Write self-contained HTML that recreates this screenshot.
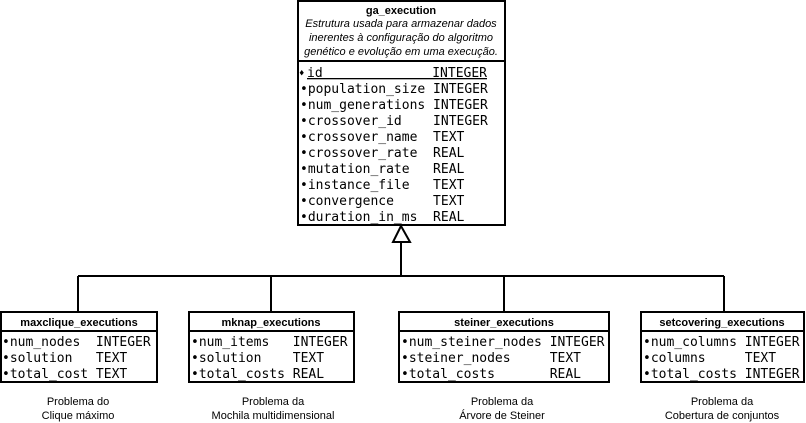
<!DOCTYPE html>
<html><head><meta charset="utf-8"><style>
html,body{margin:0;padding:0;background:#fff;width:806px;height:423px;overflow:hidden}
svg text{font-family:"DejaVu Sans Mono",monospace;font-size:13px;fill:#000;white-space:pre}
svg .h{font-family:"Liberation Sans",sans-serif;font-weight:bold;font-size:11px}
svg .i{font-family:"Liberation Sans",sans-serif;font-style:italic;font-size:11px}
svg .l{font-family:"Liberation Sans",sans-serif;font-size:11px}
</style></head><body>
<svg width="806" height="423" viewBox="0 0 806 423" xmlns="http://www.w3.org/2000/svg" xml:space="preserve">
<g fill="none" stroke="#000" stroke-width="2">
<rect x="298" y="1" width="207" height="224" fill="#fff"/>
<line x1="298" y1="61" x2="505" y2="61"/>
<polygon points="401,226 393,242 410,242" fill="#fff"/>
<line x1="401" y1="242" x2="401" y2="276"/>
<line x1="78" y1="276" x2="724" y2="276"/>
<line x1="78" y1="276" x2="78" y2="312"/>
<line x1="271" y1="276" x2="271" y2="312"/>
<line x1="504" y1="276" x2="504" y2="312"/>
<line x1="724" y1="276" x2="724" y2="312"/>
<rect x="1" y="312" width="156" height="70"/><line x1="1" y1="331" x2="157" y2="331"/>
<rect x="189" y="312" width="165" height="70"/><line x1="189" y1="331" x2="354" y2="331"/>
<rect x="399" y="312" width="210" height="70"/><line x1="399" y1="331" x2="609" y2="331"/>
<rect x="641" y="312" width="163" height="70"/><line x1="641" y1="331" x2="804" y2="331"/>
</g>
<text class="h" x="401" y="14" text-anchor="middle">ga_execution</text>
<text class="i" x="401" y="27" text-anchor="middle">Estrutura usada para armazenar dados</text>
<text class="i" x="401" y="41" text-anchor="middle">inerentes à configuração do algoritmo</text>
<text class="i" x="401" y="55" text-anchor="middle">genético e evolução em uma execução.</text>
<text x="299" y="76" style="font-size:9px">♦</text>
<text x="307" y="77" text-decoration="underline">id              INTEGER</text>
<text x="300" y="93">•population_size INTEGER</text>
<text x="300" y="109">•num_generations INTEGER</text>
<text x="300" y="125">•crossover_id    INTEGER</text>
<text x="300" y="141">•crossover_name  TEXT</text>
<text x="300" y="157">•crossover_rate  REAL</text>
<text x="300" y="173">•mutation_rate   REAL</text>
<text x="300" y="189">•instance_file   TEXT</text>
<text x="300" y="205">•convergence     TEXT</text>
<text x="300" y="221">•duration_in_ms  REAL</text>
<text class="h" x="79" y="326" text-anchor="middle">maxclique_executions</text>
<text x="2" y="346">•num_nodes  INTEGER</text>
<text x="2" y="362">•solution   TEXT</text>
<text x="2" y="378">•total_cost TEXT</text>
<text class="h" x="271" y="326" text-anchor="middle">mknap_executions</text>
<text x="191" y="346">•num_items   INTEGER</text>
<text x="191" y="362">•solution    TEXT</text>
<text x="191" y="378">•total_costs REAL</text>
<text class="h" x="504" y="326" text-anchor="middle">steiner_executions</text>
<text x="401" y="346">•num_steiner_nodes INTEGER</text>
<text x="401" y="362">•steiner_nodes     TEXT</text>
<text x="401" y="378">•total_costs       REAL</text>
<text class="h" x="722" y="326" text-anchor="middle">setcovering_executions</text>
<text x="643" y="346">•num_columns INTEGER</text>
<text x="643" y="362">•columns     TEXT</text>
<text x="643" y="378">•total_costs INTEGER</text>
<text class="l" x="78" y="405" text-anchor="middle">Problema do</text>
<text class="l" x="78" y="419" text-anchor="middle">Clique máximo</text>
<text class="l" x="273" y="405" text-anchor="middle">Problema da</text>
<text class="l" x="273" y="419" text-anchor="middle">Mochila multidimensional</text>
<text class="l" x="502" y="405" text-anchor="middle">Problema da</text>
<text class="l" x="502" y="419" text-anchor="middle">Árvore de Steiner</text>
<text class="l" x="722" y="405" text-anchor="middle">Problema da</text>
<text class="l" x="722" y="419" text-anchor="middle">Cobertura de conjuntos</text>
</svg>
</body></html>
